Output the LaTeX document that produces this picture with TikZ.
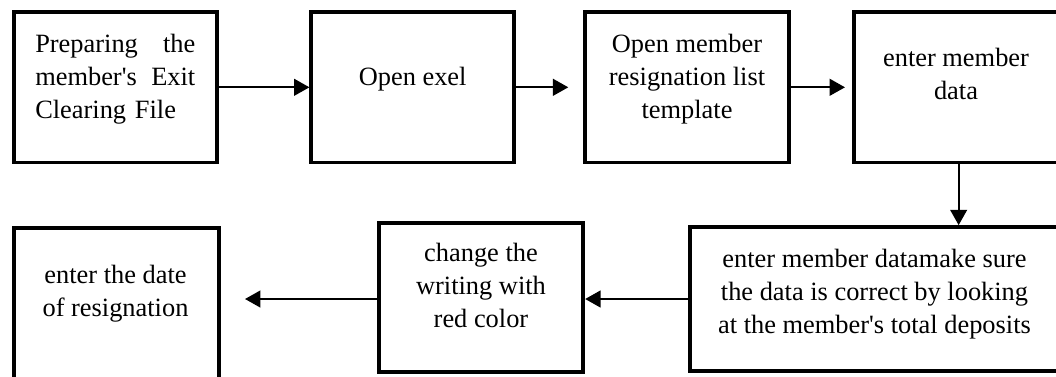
\documentclass[tikz,border=0pt]{standalone}
\usepackage{fontspec}
\setmainfont{Liberation Serif}
\usetikzlibrary{arrows.meta}
\begin{document}
\begin{tikzpicture}[x=0.75pt,y=-0.75pt,
  boxst/.style={draw, line width=2.8pt, inner sep=0pt},
  txt/.style={inner sep=0pt, anchor=north, align=center, font=\fontsize{19.8pt}{24.75pt}\selectfont},
  arr/.style={line width=1.6pt, -{Triangle[length=11.5pt,width=12.5pt]}}]
\useasboundingbox (0,0) rectangle (1056,376);
\clip (0,0) rectangle (1056,376);
\fill[white] (0,0) rectangle (1056,376);
% boxes
\node[boxst, minimum width=203.3*0.75pt, minimum height=150.6*0.75pt] (B1) at (115.35,87.3) {};
\node[boxst, minimum width=202.7*0.75pt, minimum height=150.6*0.75pt] (B2) at (412.65,87.3) {};
\node[boxst, minimum width=204*0.75pt, minimum height=150.6*0.75pt] (B3) at (687,87.3) {};
\node[boxst, minimum width=208.7*0.75pt, minimum height=150.6*0.75pt] (B4) at (958.65,87.3) {};
\node[boxst, minimum width=368.4*0.75pt, minimum height=144*0.75pt] (B5) at (874.5,299) {};
\node[boxst, minimum width=204*0.75pt, minimum height=149*0.75pt] (B6) at (481.3,297.5) {};
\node[boxst, minimum width=204.7*0.75pt, minimum height=157.3*0.75pt] (B7) at (116.35,306.35) {};
% texts
\node[txt, anchor=north west, text width=120pt, align=left] (T1) at (35,28.9)
  {\strut Preparing\hfill the\\member\textquotesingle s\hfill Exit\\Clearing File};
\node[txt] (T2) at (412.65,61.9) {\strut Open exel};
\node[txt] (T3) at (687,28.9) {\strut Open member\\resignation list\\template};
\node[txt] (T4) at (956,42.9) {\strut enter member\\data};
\node[txt] (T5) at (874.5,244.2) {\strut enter member datamake sure\\the data is correct by looking\\at the member\textquotesingle s total deposits};
\node[txt] (T6) at (481,238.6) {\strut change the\\writing with\\red color};
\node[txt] (T7) at (115.5,260.2) {\strut enter the date\\of resignation};
% connectors
\coordinate (c2) at (568.3,87.3);
\coordinate (c3) at (845,87.3);
\coordinate (c6) at (245,299);
\draw[arr] (B1.east) -- (B2.west);
\draw[arr] (B2.east) -- (c2);
\draw[arr] (B3.east) -- (c3);
\draw[arr] (B4.south) -- (B4.south |- B5.north);
\draw[arr] (B5.west) -- (B5.west -| B6.east);
\draw[arr] (B6.west |- c6) -- (c6);
\end{tikzpicture}
\end{document}
